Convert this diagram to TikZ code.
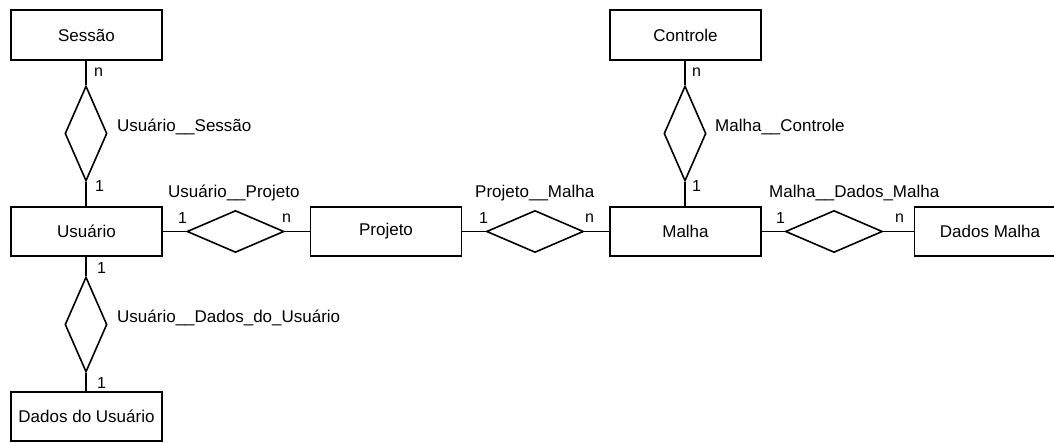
\documentclass[tikz,border=0pt]{standalone}
\usepackage{fontspec}
\setmainfont{Liberation Sans}
\usetikzlibrary{shapes.geometric}
\tikzset{
  entity/.style={draw, line width=1.6pt, minimum width=151pt, minimum height=49.5pt, inner sep=0pt, font=\fontsize{17}{20}\selectfont},
  hrel/.style={draw, diamond, line width=1.6pt, minimum width=97pt, minimum height=42pt, inner sep=0pt, aspect=1},
  vrel/.style={draw, diamond, line width=1.6pt, minimum width=42pt, minimum height=95pt, inner sep=0pt, aspect=1},
  conn/.style={line width=1.6pt},
  card/.style={anchor=west, inner sep=0pt, font=\fontsize{16}{18}\selectfont},
  rlabel/.style={anchor=base west, inner sep=0pt, font=\fontsize{17}{20}\selectfont},
}
\begin{document}
\begin{tikzpicture}[x=1pt, y=-1pt]
\useasboundingbox (0,0) rectangle (1054,443);
\clip (0,0) rectangle (1054,443);
% entities
\node[entity] (sessao) at (86.5,35) {Sessão};
\node[entity] (usuario) at (86.5,231.5) {Usuário};
\node[entity] (dadosusu) at (86.5,416.5) {Dados do Usuário};
\node[entity] (projeto) at (386,231.5) {Projeto};
\node[entity] (malha) at (685.5,231.5) {Malha};
\node[entity] (controle) at (685.5,35) {Controle};
\node[entity] (dadosmalha) at (990,231.5) {Dados Malha};
% relationships
\node[vrel] (rus) at (86,133.5) {};
\node[vrel] (rud) at (86,324.5) {};
\node[hrel] (rup) at (235.5,231.5) {};
\node[hrel] (rpm) at (535,231.5) {};
\node[hrel] (rmd) at (834,231.5) {};
\node[vrel] (rmc) at (685,133.5) {};
% connectors
\draw[conn] (sessao.south -| rus.north) -- (rus.north);
\draw[conn] (rus.south) -- (usuario.north -| rus.south);
\draw[conn] (usuario.south -| rud.north) -- (rud.north);
\draw[conn] (rud.south) -- (dadosusu.north -| rud.south);
\draw[conn] (usuario.east) -- (rup.west);
\draw[conn] (rup.east) -- (projeto.west);
\draw[conn] (projeto.east) -- (rpm.west);
\draw[conn] (rpm.east) -- (malha.west);
\draw[conn] (malha.east) -- (rmd.west);
\draw[conn] (rmd.east) -- (dadosmalha.west);
\draw[conn] (controle.south -| rmc.north) -- (rmc.north);
\draw[conn] (rmc.south) -- (malha.north -| rmc.south);
% relationship labels
\node[rlabel] (lus) at (117,132) {Usuário\_\_Sessão};
\node[rlabel] (lup) at (168,198) {Usuário\_\_Projeto};
\node[rlabel] (lud) at (117,323) {Usuário\_\_Dados\_do\_Usuário};
\node[rlabel] (lpm) at (475,198) {Projeto\_\_Malha};
\node[rlabel] (lmd) at (769,198) {Malha\_\_Dados\_Malha};
\node[rlabel] (lmc) at (715,132) {Malha\_\_Controle};
% cardinalities
\node[card] (c1) at (94,72.5) {n};
\node[card] (c2) at (95,186) {1};
\node[card] (c3) at (178,218) {1};
\node[card] (c4) at (282,218) {n};
\node[card] (c5) at (97,267.5) {1};
\node[card] (c6) at (97,382.5) {1};
\node[card] (c7) at (479,218) {1};
\node[card] (c8) at (585,218) {n};
\node[card] (c9) at (776,218) {1};
\node[card] (c10) at (895,218) {n};
\node[card] (c11) at (692,72.5) {n};
\node[card] (c12) at (692,186) {1};
\end{tikzpicture}
\end{document}
